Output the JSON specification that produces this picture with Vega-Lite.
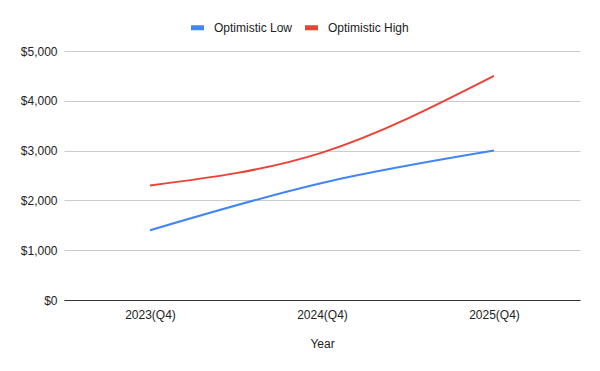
{
  "$schema": "https://vega.github.io/schema/vega-lite/v6.json",
  "width": 516,
  "height": 249,
  "autosize": "none",
  "padding": {"left": 64, "top": 51, "right": 20, "bottom": 71},
  "background": "white",
  "config": {
    "font": "Liberation Sans",
    "view": {"stroke": null}
  },
  "data": {
    "values": [
      {"year": "2023(Q4)", "series": "Optimistic Low", "value": 1400},
      {"year": "2024(Q4)", "series": "Optimistic Low", "value": 2350},
      {"year": "2025(Q4)", "series": "Optimistic Low", "value": 3000},
      {"year": "2023(Q4)", "series": "Optimistic High", "value": 2300},
      {"year": "2024(Q4)", "series": "Optimistic High", "value": 2960},
      {"year": "2025(Q4)", "series": "Optimistic High", "value": 4500}
    ]
  },
  "mark": {"type": "line", "interpolate": "monotone", "strokeWidth": 2},
  "encoding": {
    "x": {
      "field": "year",
      "type": "ordinal",
      "scale": {"type": "point", "padding": 0.5},
      "axis": {
        "title": "Year",
        "titleFont": "Liberation Sans",
        "titleFontSize": 12,
        "titleFontWeight": "normal",
        "titleColor": "#222222",
        "titlePadding": 18,
        "labelAngle": 0,
        "labelFontSize": 12,
        "labelColor": "#222222",
        "labelPadding": 9,
        "ticks": false,
        "domainColor": "#333333",
        "domainWidth": 1,
        "grid": false
      }
    },
    "y": {
      "field": "value",
      "type": "quantitative",
      "scale": {"domain": [0, 5000]},
      "axis": {
        "title": null,
        "values": [0, 1000, 2000, 3000, 4000, 5000],
        "format": "$,.0f",
        "labelFontSize": 12,
        "labelColor": "#222222",
        "labelPadding": 7,
        "ticks": false,
        "domain": false,
        "gridColor": "#cccccc",
        "gridWidth": 1
      }
    },
    "color": {
      "field": "series",
      "type": "nominal",
      "scale": {
        "domain": ["Optimistic Low", "Optimistic High"],
        "range": ["#4285F4", "#EA4335"]
      },
      "legend": {
        "title": null,
        "orient": "none",
        "direction": "horizontal",
        "legendX": 124,
        "legendY": -33,
        "symbolType": "stroke",
        "symbolStrokeWidth": 5,
        "symbolSize": 170,
        "labelFontSize": 12,
        "labelColor": "#222222",
        "columnPadding": 1,
        "labelOffset": 7
      }
    }
  }
}
